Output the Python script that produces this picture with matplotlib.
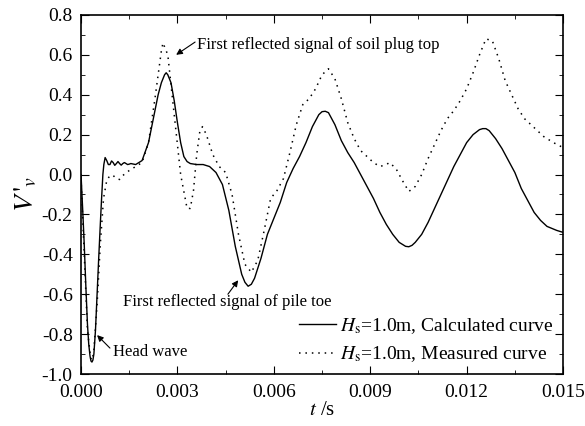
import matplotlib
matplotlib.use('Agg')
import matplotlib.pyplot as plt
from matplotlib.ticker import MultipleLocator, FormatStrFormatter

plt.rcParams['font.family'] = 'Liberation Serif'
plt.rcParams['mathtext.fontset'] = 'stix'

# Calculated curve (solid)
t_calc = [0.0000, 0.00005, 0.0001, 0.00015, 0.0002, 0.00024, 0.00028, 0.00031, 0.00034, 0.00037,
          0.0004, 0.00045, 0.0005, 0.00055, 0.0006, 0.00064, 0.00068, 0.00071, 0.00075, 0.0008,
          0.00085, 0.0009, 0.00095, 0.0010, 0.00105, 0.0011, 0.00115, 0.0012, 0.00125, 0.0013,
          0.00135, 0.0014, 0.00145, 0.0015, 0.00155, 0.0017, 0.0019, 0.0021, 0.0023, 0.0024,
          0.0025, 0.0026, 0.00265, 0.0027, 0.0028, 0.0029, 0.0030, 0.0031, 0.0032, 0.0033,
          0.0034, 0.0036, 0.0038, 0.0040, 0.0042, 0.0044, 0.0046, 0.0048, 0.0050, 0.0051,
          0.0052, 0.0053, 0.0054, 0.0056, 0.0058, 0.0060, 0.0062, 0.0064, 0.0066, 0.0068,
          0.0070, 0.0072, 0.0074, 0.0075, 0.0076, 0.0077, 0.0079, 0.0081, 0.0083, 0.0085,
          0.0087, 0.0089, 0.0091, 0.0093, 0.0095, 0.0097, 0.0099, 0.0101, 0.0102, 0.0103,
          0.0104, 0.0106, 0.0108, 0.0110, 0.0112, 0.0114, 0.0116, 0.0118, 0.0120, 0.0122,
          0.0124, 0.0125, 0.0126, 0.0127, 0.0129, 0.0131, 0.0133, 0.0135, 0.0137, 0.0139,
          0.0141, 0.0143, 0.0145, 0.0148, 0.0150]
v_calc = [0.00, -0.17, -0.35, -0.56, -0.75, -0.85, -0.91, -0.935, -0.94, -0.93,
          -0.90, -0.78, -0.60, -0.42, -0.25, -0.12, 0.00, 0.05, 0.085, 0.07,
          0.05, 0.05, 0.068, 0.06, 0.046, 0.055, 0.065, 0.055, 0.047, 0.055,
          0.06, 0.055, 0.05, 0.052, 0.055, 0.05, 0.07, 0.16, 0.32, 0.40,
          0.46, 0.50, 0.51, 0.50, 0.46, 0.37, 0.26, 0.16, 0.09, 0.065,
          0.055, 0.05, 0.05, 0.04, 0.01, -0.05, -0.18, -0.36, -0.50, -0.54,
          -0.56, -0.55, -0.52, -0.42, -0.30, -0.22, -0.14, -0.04, 0.03, 0.09,
          0.16, 0.24, 0.30, 0.315, 0.317, 0.31, 0.25, 0.17, 0.11, 0.06,
          0.00, -0.06, -0.12, -0.19, -0.25, -0.30, -0.34, -0.36, -0.362, -0.355,
          -0.34, -0.30, -0.24, -0.17, -0.10, -0.03, 0.04, 0.10, 0.16, 0.20,
          0.225, 0.23, 0.23, 0.22, 0.18, 0.13, 0.07, 0.01, -0.07, -0.13,
          -0.19, -0.23, -0.26, -0.28, -0.29]

# Measured curve (dotted)
t_meas = [0.0000, 0.0001, 0.0002, 0.0003, 0.00035, 0.0004, 0.0005, 0.0006, 0.0007, 0.0008,
          0.0009, 0.0010, 0.0011, 0.0012, 0.0013, 0.0015, 0.0017, 0.0019, 0.0021, 0.0023,
          0.0025, 0.00255, 0.0027, 0.0029, 0.0031, 0.0033, 0.0034, 0.0035, 0.0036, 0.0037,
          0.00378, 0.0039, 0.0041, 0.0043, 0.0045, 0.0047, 0.0049, 0.0051, 0.0053, 0.0055,
          0.0057, 0.0059, 0.0061, 0.0063, 0.0065, 0.0067, 0.0069, 0.0071, 0.0073, 0.0075,
          0.0077, 0.0079, 0.0081, 0.0083, 0.0085, 0.0087, 0.0089, 0.0091, 0.0093, 0.0095,
          0.0096, 0.0098, 0.0100, 0.0102, 0.0104, 0.0106, 0.0108, 0.0110, 0.0112, 0.0114,
          0.0116, 0.0118, 0.0120, 0.0122, 0.0124, 0.0126, 0.0128, 0.0130, 0.0132, 0.0134,
          0.0136, 0.0138, 0.0140, 0.0142, 0.0144, 0.0147, 0.0150]
v_meas = [-0.02, -0.40, -0.78, -0.92, -0.93, -0.88, -0.65, -0.35, -0.12, -0.03,
          -0.005, -0.005, -0.02, -0.025, -0.005, 0.02, 0.04, 0.06, 0.16, 0.38,
          0.62, 0.66, 0.60, 0.30, 0.00, -0.17, -0.17, -0.08, 0.10, 0.22,
          0.24, 0.20, 0.10, 0.04, 0.01, -0.10, -0.30, -0.45, -0.49, -0.43,
          -0.28, -0.12, -0.08, -0.02, 0.11, 0.25, 0.35, 0.38, 0.43, 0.50,
          0.53, 0.48, 0.38, 0.26, 0.18, 0.12, 0.09, 0.06, 0.04, 0.05,
          0.06, 0.03, -0.03, -0.085, -0.06, 0.00, 0.08, 0.15, 0.22, 0.28,
          0.32, 0.37, 0.43, 0.51, 0.60, 0.68, 0.67, 0.58, 0.47, 0.40,
          0.33, 0.28, 0.25, 0.22, 0.19, 0.16, 0.135]

fig = plt.figure(figsize=(5.85, 4.26), dpi=100)
ax = fig.add_axes([0.1385, 0.122, 0.824, 0.843])

ax.plot(t_calc, v_calc, 'k-', lw=1.0, label=r'$H_{\mathrm{s}}$=1.0m, Calculated curve')
ax.plot(t_meas, v_meas, 'k', lw=1.1, dashes=(1, 3.2),
        label=r'$H_{\mathrm{s}}$=1.0m, Measured curve')

ax.set_xlim(0, 0.015)
ax.set_ylim(-1.0, 0.8)
ax.xaxis.set_major_locator(MultipleLocator(0.003))
ax.xaxis.set_minor_locator(MultipleLocator(0.0015))
ax.yaxis.set_major_locator(MultipleLocator(0.2))
ax.yaxis.set_minor_locator(MultipleLocator(0.1))
ax.xaxis.set_major_formatter(FormatStrFormatter('%.3f'))
ax.yaxis.set_major_formatter(FormatStrFormatter('%.1f'))
ax.tick_params(which='both', direction='in', top=True, right=True, labelsize=14)
ax.tick_params(which='major', length=6)
ax.tick_params(which='minor', length=3)
ax.tick_params(axis='x', pad=7)
ax.tick_params(axis='y', pad=6)
for s in ax.spines.values():
    s.set_linewidth(1.2)

ax.set_xlabel(r'$t$ /s', fontsize=15, labelpad=0)
ax.set_ylabel(r"$V\,'_{v}$", fontsize=20, labelpad=2)

arr = dict(arrowstyle='-|>', color='k', lw=0.8, mutation_scale=9, shrinkA=0, shrinkB=0)
ax.annotate('', xy=(0.00296, 0.60), xytext=(0.00355, 0.664), arrowprops=arr)
ax.text(0.00360, 0.65, 'First reflected signal of soil plug top', fontsize=12, va='center', ha='left')
ax.annotate('', xy=(0.00489, -0.53), xytext=(0.00457, -0.60), arrowprops=arr)
ax.text(0.00455, -0.64, 'First reflected signal of pile toe', fontsize=12, va='center', ha='center')
ax.annotate('', xy=(0.00050, -0.805), xytext=(0.00090, -0.87), arrowprops=arr)
ax.text(0.00100, -0.89, 'Head wave', fontsize=12, va='center', ha='left')

ax.legend(loc='lower right', frameon=False, fontsize=14, handlelength=1.9,
          handletextpad=0.2, labelspacing=0.45, borderaxespad=0.1,
          bbox_to_anchor=(1.0, 0.0))

fig.savefig('out.png', dpi=100)
